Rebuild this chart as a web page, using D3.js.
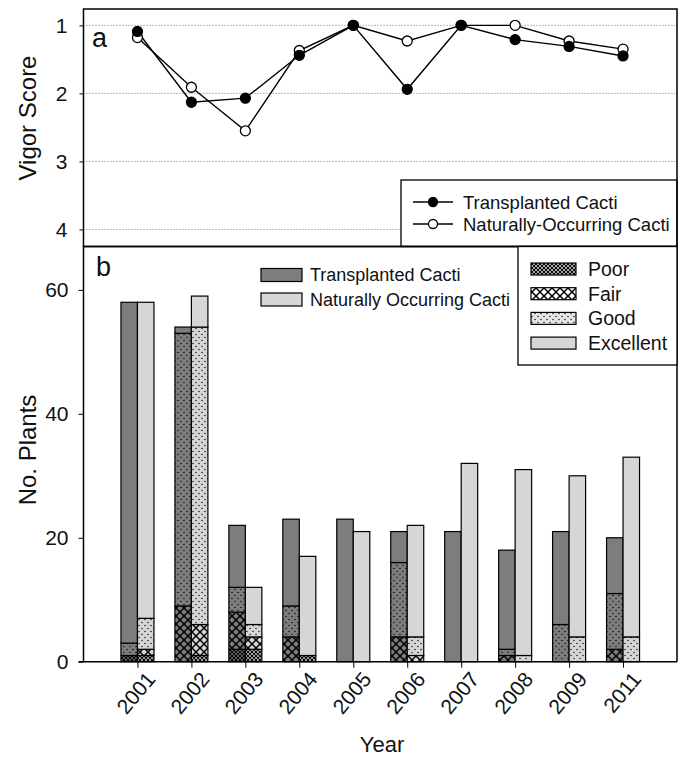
<!DOCTYPE html>
<html>
  <head>
    <title>Cactus vigor</title>
    <script src="https://d3js.org/d3.v7.min.js"></script>
    <style>
    body { margin: 0; background: white; }
    text {
      font-family: "Liberation Sans", Arial, sans-serif;
      fill: #111;
    }
    </style>
  </head>
  <body>
      <script>
          // data
          var years = ["2001","2002","2003","2004","2005","2006","2007","2008","2009","2011"];

          // panel a: mean vigor score (1 = excellent)
          var vigorTransplanted = [1.09, 2.13, 2.07, 1.44, 1.00, 1.94, 1.00, 1.21, 1.31, 1.45];
          var vigorNatural      = [1.18, 1.91, 2.55, 1.37, 1.00, 1.23, 1.00, 1.00, 1.23, 1.35];

          // panel b: plants per vigor class
          var poorT = [1, 0, 2, 0, 0, 0, 0, 0, 0, 0];
          var fairT = [0, 9, 6, 4, 0, 4, 0, 1, 0, 2];
          var goodT = [2, 44, 4, 5, 0, 12, 0, 1, 6, 9];
          var excT  = [55, 1, 10, 14, 23, 5, 21, 16, 15, 9];

          var poorN = [1, 1, 2, 1, 0, 0, 0, 0, 0, 0];
          var fairN = [1, 5, 2, 0, 0, 1, 0, 0, 0, 0];
          var goodN = [5, 48, 2, 0, 0, 3, 0, 1, 4, 4];
          var excN  = [51, 5, 6, 16, 21, 18, 32, 30, 26, 29];

          var classes = ["poor","fair","good","excellent"];
          var classLabels = ["Poor","Fair","Good","Excellent"];
          var groups = ["T","N"];
          var groupLabels = ["Transplanted Cacti","Naturally Occurring Cacti"];

          var width = 681;
          var height = 759;
          var left = 83.5, right = 677;
          var topA = 9, botA = 246.5;
          var topB = 246.5, botB = 661.7;
          var baseFill = {T: "#7d7d7d", N: "#d6d6d6"};

          var svg = d3.select("body")
                      .append("svg")
                      .attr("width", width)
                      .attr("height", height)
                      .style("background", "white");

          // shared x positions
          var x = d3.scalePoint()
                    .domain(years)
                    .range([left, right])
                    .padding(1);

          // ---------- patterns ----------
          var defs = svg.append("defs");
          ["T","N","L"].forEach(function(g){
            var fill = g == "L" ? "#e4e4e4" : baseFill[g];

            var p = defs.append("pattern").attr("id","poor-"+g)
                        .attr("patternUnits","userSpaceOnUse")
                        .attr("width",4).attr("height",4);
            p.append("rect").attr("width",4).attr("height",4).attr("fill",fill);
            p.append("path").attr("d","M0,0L4,4M4,0L0,4M-1,3L1,5M3,-1L5,1M3,5L5,3M-1,1L1,-1")
             .attr("stroke","#000").attr("stroke-width",1.1);

            var f = defs.append("pattern").attr("id","fair-"+g)
                        .attr("patternUnits","userSpaceOnUse")
                        .attr("width",8).attr("height",8);
            f.append("rect").attr("width",8).attr("height",8).attr("fill", g == "L" ? "white" : fill);
            f.append("path").attr("d","M0,0L8,8M8,0L0,8")
             .attr("stroke","#000").attr("stroke-width",1.5);

            var s = defs.append("pattern").attr("id","good-"+g)
                        .attr("patternUnits","userSpaceOnUse")
                        .attr("width",6).attr("height",6);
            s.append("rect").attr("width",6).attr("height",6).attr("fill",fill);
            s.append("circle").attr("cx",1).attr("cy",1.5).attr("r",0.7).attr("fill","#000");
            s.append("circle").attr("cx",4).attr("cy",4.5).attr("r",0.7).attr("fill","#000");
          });

          function segFill(cls, g){
            if (cls == "excellent") return g == "L" ? "#d6d6d6" : baseFill[g];
            return "url(#" + cls + "-" + g + ")";
          }

          // ---------- panel a ----------
          var yA = d3.scaleLinear().domain([0.76, 4.25]).range([topA, botA]);

          svg.append("g")
             .selectAll("line")
             .data([1,2,3,4])
             .enter()
             .append("line")
             .attr("x1", left).attr("x2", right)
             .attr("y1", yA).attr("y2", yA)
             .attr("stroke", "#777")
             .attr("stroke-width", 1)
             .attr("stroke-dasharray", "1,2");

          var axisA = svg.append("g")
             .attr("transform", "translate(" + left + ",0)")
             .call(d3.axisLeft(yA).tickValues([1,2,3,4]).tickSize(4).tickPadding(12).tickFormat(d3.format("d")));
          axisA.select(".domain").remove();
          axisA.selectAll("text").style("font-size","21px").attr("fill","#111");

          var line = d3.line()
                       .x(function(d, i){ return x(years[i]); })
                       .y(function(d){ return yA(d); });

          var series = [
            {name: "Transplanted Cacti", values: vigorTransplanted, fill: "#000"},
            {name: "Naturally-Occurring Cacti", values: vigorNatural, fill: "#fff"}
          ];

          series.forEach(function(s){
            svg.append("path")
               .attr("d", line(s.values))
               .attr("fill", "none")
               .attr("stroke", "#000")
               .attr("stroke-width", 1.4);
          });
          series.slice().reverse().forEach(function(s){
            svg.append("g")
               .selectAll("circle")
               .data(s.values)
               .enter()
               .append("circle")
               .attr("cx", function(d, i){ return x(years[i]); })
               .attr("cy", function(d){ return yA(d); })
               .attr("r", 5)
               .attr("fill", s.fill)
               .attr("stroke", "#000")
               .attr("stroke-width", 1.3);
          });

          // legend a
          var legA = svg.append("g");
          legA.append("rect")
              .attr("x", 401).attr("y", 180)
              .attr("width", right - 401).attr("height", botA - 180)
              .attr("fill", "white").attr("stroke", "#000").attr("stroke-width", 1.3);
          series.forEach(function(s, i){
            var yy = 202 + i * 22;
            legA.append("line").attr("x1", 413).attr("x2", 453).attr("y1", yy).attr("y2", yy)
                .attr("stroke", "#000").attr("stroke-width", 1.4);
            legA.append("circle").attr("cx", 433).attr("cy", yy).attr("r", 4.5)
                .attr("fill", s.fill).attr("stroke", "#000").attr("stroke-width", 1.3);
            legA.append("text").attr("x", 463).attr("y", yy).attr("dy", "0.36em")
                .style("font-size", "18.5px").text(s.name);
          });

          svg.append("rect")
             .attr("x", left).attr("y", topA)
             .attr("width", right - left).attr("height", botA - topA)
             .attr("fill", "none").attr("stroke", "#000").attr("stroke-width", 1.5);

          svg.append("text").attr("x", 92).attr("y", 47)
             .style("font-size", "27px").text("a");

          svg.append("text")
             .attr("transform", "translate(36,118) rotate(-90)")
             .attr("text-anchor", "middle")
             .style("font-size", "24px")
             .text("Vigor Score");

          // ---------- panel b ----------
          var yB = d3.scaleLinear().domain([0, 67]).range([botB, topB]);
          var xSub = d3.scaleBand().domain(groups).range([-16.5, 16.5]).padding(0);

          var stack = d3.stack().keys(classes);
          var tables = {
            T: years.map(function(y, i){ return {year: y, poor: poorT[i], fair: fairT[i], good: goodT[i], excellent: excT[i]}; }),
            N: years.map(function(y, i){ return {year: y, poor: poorN[i], fair: fairN[i], good: goodN[i], excellent: excN[i]}; })
          };

          groups.forEach(function(g){
            var layers = stack(tables[g]);
            svg.append("g")
               .selectAll("g")
               .data(layers)
               .enter()
               .append("g")
               .attr("fill", function(d){ return segFill(d.key, g); })
               .selectAll("rect")
               .data(function(d){ return d.filter(function(e){ return e[1] > e[0]; }); })
               .enter()
               .append("rect")
               .attr("x", function(d){ return x(d.data.year) + xSub(g); })
               .attr("width", xSub.bandwidth())
               .attr("y", function(d){ return yB(d[1]); })
               .attr("height", function(d){ return yB(d[0]) - yB(d[1]); })
               .attr("stroke", "#000")
               .attr("stroke-width", 1.2);
          });

          // axes b
          var axisBL = svg.append("g")
             .attr("transform", "translate(" + left + ",0)")
             .call(d3.axisLeft(yB).tickValues([0,20,40,60]).tickSize(5).tickPadding(10));
          axisBL.select(".domain").remove();
          axisBL.selectAll("text").style("font-size","21px").attr("fill","#111");

          var axisBB = svg.append("g")
             .attr("transform", "translate(0," + botB + ")")
             .call(d3.axisBottom(x).tickSize(6).tickSizeOuter(0));
          axisBB.select(".domain").attr("d", "M" + (left - 5) + ",0H" + right).attr("stroke-width", 1.4);
          axisBB.selectAll("text")
                .style("font-size", "21px")
                .attr("fill", "#111")
                .attr("text-anchor", "end")
                .attr("transform", "translate(2,4) rotate(-50)")
                .attr("dx", 0).attr("dy", "0.75em").attr("y", 6);

          svg.append("path")
             .attr("d", "M" + left + "," + botB + "V" + topB + "H" + right + "V" + botB)
             .attr("fill", "none").attr("stroke", "#000").attr("stroke-width", 1.5);

          svg.append("text").attr("x", 96).attr("y", 276)
             .style("font-size", "27px").text("b");

          svg.append("text")
             .attr("transform", "translate(36,450) rotate(-90)")
             .attr("text-anchor", "middle")
             .style("font-size", "24px")
             .text("No. Plants");

          svg.append("text")
             .attr("x", 382).attr("y", 752)
             .attr("text-anchor", "middle")
             .style("font-size", "22px")
             .text("Year");

          // legend: groups
          var legG = svg.append("g");
          groups.forEach(function(g, i){
            var yy = 275 + i * 24.5;
            legG.append("rect").attr("x", 261).attr("y", yy - 6.5)
                .attr("width", 41).attr("height", 13)
                .attr("fill", baseFill[g]).attr("stroke", "#000").attr("stroke-width", 1.2);
            legG.append("text").attr("x", 310).attr("y", yy).attr("dy", "0.36em")
                .style("font-size", "18px").text(groupLabels[i]);
          });

          // legend: classes
          var legC = svg.append("g");
          legC.append("rect")
              .attr("x", 518).attr("y", topB)
              .attr("width", right - 518).attr("height", 365 - topB)
              .attr("fill", "white").attr("stroke", "#000").attr("stroke-width", 1.3);
          classes.forEach(function(c, i){
            var yy = 269 + i * 24.7;
            legC.append("rect").attr("x", 531).attr("y", yy - 6)
                .attr("width", 45).attr("height", 12)
                .attr("fill", segFill(c, "L")).attr("stroke", "#000").attr("stroke-width", 1.2);
            legC.append("text").attr("x", 588).attr("y", yy).attr("dy", "0.36em")
                .style("font-size", "19.5px").text(classLabels[i]);
          });
      </script>
  </body>
</html>
